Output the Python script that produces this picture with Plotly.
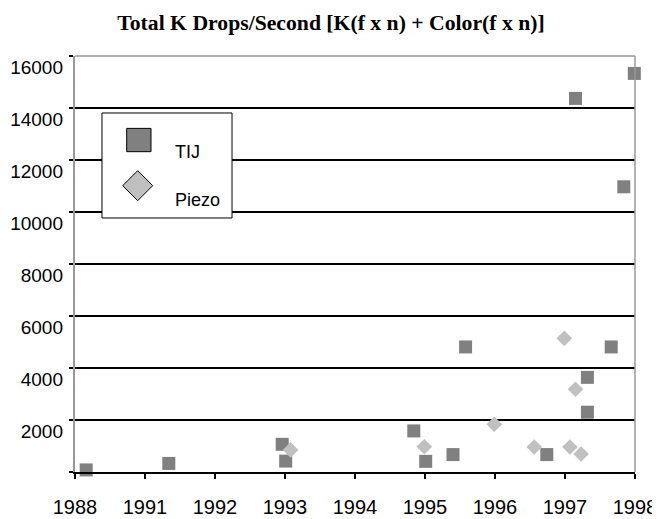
import plotly.graph_objects as go

# ---- data (x in axis-position units: tick index 0..8) ----
tick_labels = ["1988", "1991", "1992", "1993", "1994", "1995", "1996", "1997", "1998"]
tick_positions = [0, 1, 2, 3, 4, 5, 6, 7, 8]

tij_x = [0.16, 1.34, 2.96, 3.01, 4.84, 5.01, 5.40, 5.58, 6.74, 7.15, 7.32, 7.32, 7.66, 7.84, 7.99]
tij_y = [80, 330, 1065, 420, 1580, 410, 670, 4810, 670, 14370, 3640, 2300, 4810, 10970, 15330]

piezo_x = [3.08, 4.99, 5.99, 6.56, 6.99, 7.07, 7.15, 7.23]
piezo_y = [850, 970, 1835, 960, 5140, 960, 3180, 690]

y_ticks = [0, 2000, 4000, 6000, 8000, 10000, 12000, 14000, 16000]
y_labels = ["", "2000", "4000", "6000", "8000", "10000", "12000", "14000", "16000"]
series_names = ["TIJ", "Piezo"]

fig = go.Figure()
fig.add_trace(go.Scatter(
    x=tij_x, y=tij_y, mode="markers", name=series_names[0],
    marker=dict(symbol="square", size=13, color="#808080", line=dict(width=0)),
    cliponaxis=False, showlegend=False))
fig.add_trace(go.Scatter(
    x=piezo_x, y=piezo_y, mode="markers", name=series_names[1],
    marker=dict(symbol="diamond", size=12, color="#c0c0c0", line=dict(width=0)),
    cliponaxis=False, showlegend=False))
# invisible trace to drive the label axis
fig.add_trace(go.Scatter(x=[0], y=[0], yaxis="y2", mode="markers",
                         marker=dict(opacity=0), showlegend=False, hoverinfo="skip"))

# page body has an 8px default margin, so the figure is sized/offset to compensate
fig.update_layout(
    width=652, height=511,
    margin=dict(l=67, r=25, t=48, b=47),
    paper_bgcolor="white", plot_bgcolor="white",
    font=dict(family="Liberation Sans, Arial", color="black"),
    title=dict(text="<b>Total K Drops/Second [K(f x n) + Color(f x n)]</b>",
               font=dict(family="Liberation Serif, Times New Roman", size=21.7, color="black"),
               x=0.4954, xanchor="center", y=1 - 14 / 511, yanchor="middle"),
    xaxis=dict(range=[0, 8], tickvals=tick_positions, ticktext=tick_labels, automargin=False,
               showgrid=False, zeroline=False, showline=True, linecolor="black", linewidth=1.5,
               ticks="outside", ticklen=5, tickcolor="black", tickwidth=1.5,
               tickfont=dict(size=20), ticklabelstandoff=11),
    yaxis=dict(range=[0, 16000], tickvals=y_ticks, showticklabels=False, automargin=False,
               showgrid=True, gridcolor="black", gridwidth=1.6, zeroline=False,
               showline=True, linecolor="#999999", linewidth=1.5,
               ticks="outside", ticklen=4, tickcolor="black", tickwidth=1.5),
    yaxis2=dict(range=[0, 16000], overlaying="y", side="left", tickvals=y_ticks, ticktext=y_labels,
                automargin=False, showgrid=False, zeroline=False, showline=False, ticks="",
                tickfont=dict(size=19), ticklabelshift=11, ticklabelstandoff=11),
)

# top and right border (gray)
fig.add_shape(type="line", xref="paper", yref="paper", x0=0, x1=1, y0=1, y1=1,
              line=dict(color="#999999", width=1.5))
fig.add_shape(type="line", xref="paper", yref="paper", x0=1, x1=1, y0=0, y1=1,
              line=dict(color="#999999", width=1.5))

# manual legend (box, symbols, texts)
fig.add_shape(type="rect", xref="paper", yref="paper", x0=0.0482, x1=0.2804, y0=0.6106, y1=0.863,
              line=dict(color="black", width=1), fillcolor="white", layer="above")
fig.add_shape(type="rect", xref="paper", yref="paper", x0=0.0923, x1=0.1357, y0=0.770, y1=0.826,
              line=dict(color="black", width=1), fillcolor="#808080", layer="above")
cx, cy, hw, hh = 0.1120, 0.6883, 0.0268, 0.0361
fig.add_shape(type="path", xref="paper", yref="paper",
              path=f"M {cx-hw} {cy} L {cx} {cy+hh} L {cx+hw} {cy} L {cx} {cy-hh} Z",
              line=dict(color="black", width=1), fillcolor="#c0c0c0", layer="above")
fig.add_annotation(xref="paper", yref="paper", x=0.1745, y=0.769, text=series_names[0],
                   showarrow=False, xanchor="left", yanchor="middle", font=dict(size=18))
fig.add_annotation(xref="paper", yref="paper", x=0.1745, y=0.654, text=series_names[1],
                   showarrow=False, xanchor="left", yanchor="middle", font=dict(size=18))

fig.write_html("out.html")
